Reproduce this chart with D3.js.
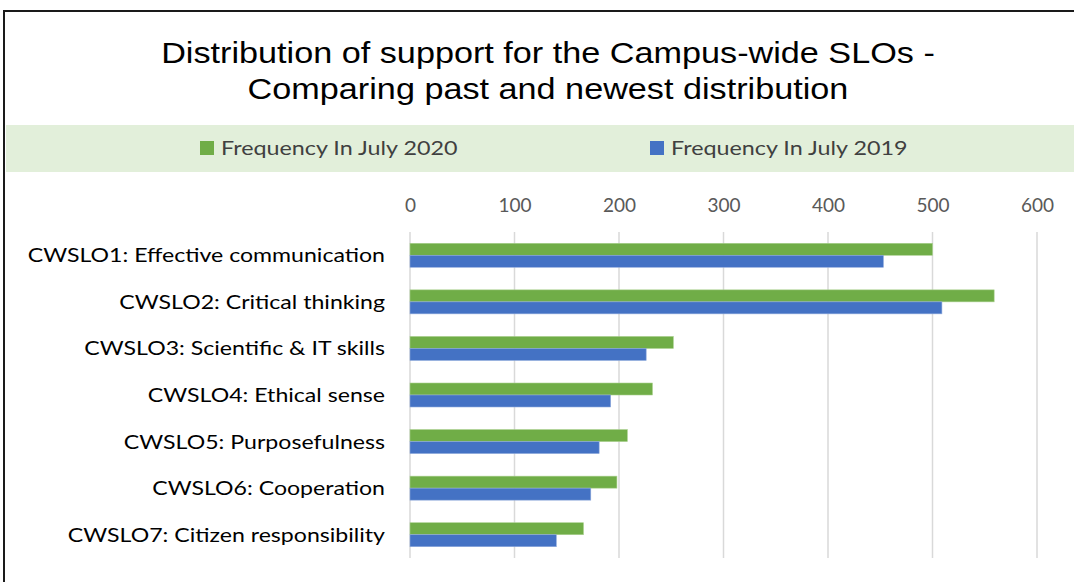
<!DOCTYPE html>
<html>
<head>
<meta charset="utf-8">
<script src="https://cdn.jsdelivr.net/npm/d3@7"></script>
<style>
  body { margin: 0; background: #fff; }
  svg { display: block; }
</style>
</head>
<body>
<div class="visuals"></div>
<script>
// chart data
const categories = [
  "CWSLO1: Effective communication",
  "CWSLO2: Critical thinking",
  "CWSLO3: Scientific & IT skills",
  "CWSLO4: Ethical sense",
  "CWSLO5: Purposefulness",
  "CWSLO6: Cooperation",
  "CWSLO7: Citizen responsibility"
];
const freq2020 = [500, 559, 252, 232, 208, 198, 166];
const freq2019 = [453, 509, 226, 192, 181, 173, 140];
const seriesNames = ["Frequency In July 2020", "Frequency In July 2019"];
const xTicks = [0, 100, 200, 300, 400, 500, 600];

const width = 1074;
const height = 582;
const colors = ["#70ad47", "#4472c4"];

// the original picture is a little stretched sideways, so widen text to match
function stretch(sel, k) {
  sel.each(function() {
    const len = this.getComputedTextLength();
    d3.select(this).attr("textLength", len * k).attr("lengthAdjust", "spacingAndGlyphs");
  });
}

const svg = d3.select(".visuals")
  .append("svg")
  .attr("width", width)
  .attr("height", height);

// outer frame
svg.append("rect")
  .attr("x", 4).attr("y", 11)
  .attr("width", 1200).attr("height", 700)
  .attr("fill", "none")
  .attr("stroke", "#1a1a1a")
  .attr("stroke-width", 2);

// title
const title = svg.append("text")
  .attr("text-anchor", "middle")
  .attr("font-family", "Liberation Sans, Arial, sans-serif")
  .attr("font-size", 30)
  .attr("fill", "#000");
title.append("tspan").attr("x", 548).attr("y", 63).text("Distribution of support for the Campus-wide SLOs -");
title.append("tspan").attr("x", 548).attr("y", 99).text("Comparing past and newest distribution");
stretch(title.selectAll("tspan"), 1.14);

// legend band
svg.append("rect")
  .attr("x", 6).attr("y", 125)
  .attr("width", width).attr("height", 47)
  .attr("fill", "#e2efda");

const legendX = [200, 650];
const legend = svg.selectAll(".legend")
  .data(seriesNames)
  .enter()
  .append("g")
  .attr("class", "legend")
  .attr("transform", (d, i) => `translate(${legendX[i]},148)`);
legend.append("rect")
  .attr("x", 0).attr("y", -7)
  .attr("width", 14).attr("height", 14)
  .attr("fill", (d, i) => colors[i]);
legend.append("text")
  .attr("x", 21).attr("y", 7)
  .attr("font-family", "Lato, sans-serif")
  .attr("font-size", 20)
  .attr("fill", "#404040")
  .text(d => d)
  .call(stretch, 1.165);

// scales
const x = d3.scaleLinear().domain([0, 600]).range([410, 1037]);
const y0 = d3.scaleBand().domain(categories).range([232, 558])
  .paddingInner(0.485).paddingOuter(0.2425);
const y1 = d3.scaleBand().domain(seriesNames).range([0, y0.bandwidth()]);

// gridlines
svg.append("g")
  .selectAll("line")
  .data(xTicks)
  .enter()
  .append("line")
  .attr("x1", d => x(d)).attr("x2", d => x(d))
  .attr("y1", 232).attr("y2", 558)
  .attr("stroke", "#d9d9d9")
  .attr("stroke-width", 1.5);

// top axis labels
const xAxis = svg.append("g")
  .attr("transform", "translate(0,212)")
  .call(d3.axisTop(x).tickValues(xTicks).tickSize(0).tickPadding(0));
xAxis.select(".domain").remove();
xAxis.selectAll("text")
  .attr("font-family", "Lato, sans-serif")
  .attr("font-size", 19)
  .attr("fill", "#595959");

// bars
const rows = categories.map((c, i) => ({ cat: c, vals: [freq2020[i], freq2019[i]] }));
const groups = svg.selectAll(".row")
  .data(rows)
  .enter()
  .append("g")
  .attr("class", "row")
  .attr("transform", d => `translate(0,${y0(d.cat)})`);

groups.selectAll("rect")
  .data(d => d.vals.map((v, i) => ({ name: seriesNames[i], v: v, i: i })))
  .enter()
  .append("rect")
  .attr("class", "bar")
  .attr("x", x(0))
  .attr("y", d => y1(d.name))
  .attr("width", d => x(d.v) - x(0))
  .attr("height", y1.bandwidth())
  .attr("fill", d => colors[d.i])
  .attr("stroke", d => d.i === 0 ? "#a9d08e" : "#8ea9db")
  .attr("stroke-width", 0.6);

// category labels
svg.append("g")
  .selectAll("text")
  .data(categories)
  .enter()
  .append("text")
  .attr("x", 385)
  .attr("y", d => y0(d) + y0.bandwidth() / 2)
  .attr("dy", "0.35em")
  .attr("text-anchor", "end")
  .attr("font-family", "Lato, sans-serif")
  .attr("font-size", 20)
  .attr("fill", "#000")
  .text(d => d)
  .call(stretch, 1.155);
</script>
</body>
</html>
